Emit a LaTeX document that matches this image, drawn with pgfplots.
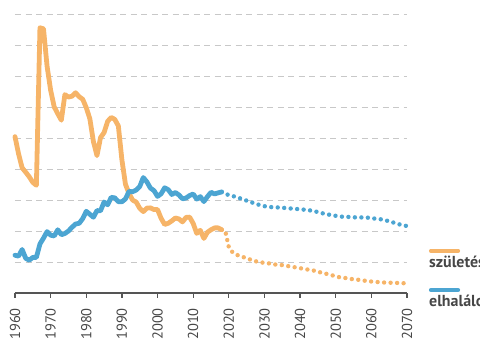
\documentclass[border=0pt]{standalone}
\usepackage{pgfplots}
\pgfplotsset{compat=1.18}
\usepackage{fontspec}
\setmainfont{PT Sans}
\definecolor{orng}{RGB}{246,180,104}
\definecolor{blu}{RGB}{76,165,210}
\definecolor{grd}{RGB}{200,200,200}
\definecolor{axc}{RGB}{85,85,85}
\definecolor{txc}{RGB}{70,70,70}

\pgfplotstableread{
year births
1960 352.2
1961 324.4
1962 301.9
1963 294.9
1964 287.4
1965 278.4
1966 273.7
1967 527.8
1968 526.1
1969 465.8
1970 427.0
1971 400.2
1972 389.2
1973 378.7
1974 420.0
1975 416.0
1976 417.4
1977 423.0
1978 416.6
1979 412.5
1980 398.9
1981 381.1
1982 344.4
1983 321.5
1984 350.7
1985 358.8
1986 376.9
1987 383.2
1988 380.0
1989 369.5
1990 314.7
1991 275.3
1992 260.4
1993 249.9
1994 246.7
1995 236.6
1996 231.3
1997 236.9
1998 237.3
1999 234.6
2000 234.5
2001 220.4
2002 210.5
2003 212.5
2004 216.3
2005 221.0
2006 219.5
2007 214.7
2008 221.9
2009 222.4
2010 212.2
2011 196.2
2012 201.1
2013 188.0
2014 198.0
2015 202.0
2016 205.0
2017 205.0
2018 202.0
}\birthsact

\pgfplotstableread{
year births
2018 202.0
2019 200.0
2020 174.0
2021 166.0
2022 162.0
2023 160.0
2024 158.0
2025 156.0
2026 154.0
2027 152.0
2028 150.5
2029 149.5
2030 148.5
2031 148.0
2032 147.0
2033 146.0
2034 145.5
2035 145.0
2036 144.0
2037 143.0
2038 142.0
2039 141.0
2040 140.0
2041 139.0
2042 138.0
2043 137.0
2044 136.0
2045 134.0
2046 133.0
2047 131.5
2048 130.0
2049 128.5
2050 127.0
2051 125.5
2052 124.5
2053 124.0
2054 123.0
2055 122.0
2056 121.5
2057 121.0
2058 120.0
2059 119.0
2060 118.5
2061 118.0
2062 117.5
2063 117.0
2064 116.8
2065 116.6
2066 116.5
2067 116.3
2068 116.0
2069 115.8
2070 115.5
}\birthsproj

\pgfplotstableread{
year deaths
1960 160.9
1961 159.5
1962 170.2
1963 156.0
1964 152.9
1965 157.4
1966 157.5
1967 179.1
1968 188.5
1969 199.0
1970 193.3
1971 192.0
1972 202.0
1973 194.0
1974 196.0
1975 200.0
1976 206.0
1977 211.3
1978 212.4
1979 220.0
1980 231.8
1981 227.0
1982 222.2
1983 232.9
1984 232.6
1985 246.7
1986 242.3
1987 254.3
1988 253.4
1989 247.3
1990 247.1
1991 251.8
1992 263.9
1993 263.3
1994 266.1
1995 271.7
1996 286.2
1997 279.3
1998 269.2
1999 265.2
2000 255.8
2001 260.0
2002 269.7
2003 266.6
2004 258.9
2005 262.1
2006 258.1
2007 252.0
2008 253.2
2009 257.2
2010 259.7
2011 251.4
2012 255.5
2013 247.5
2014 255.4
2015 262.4
2016 259.8
2017 261.5
2018 263.0
}\deathsact

\pgfplotstableread{
year deaths
2018 263.0
2019 260.0
2020 258.0
2021 256.5
2022 255.0
2023 253.0
2024 251.0
2025 249.0
2026 247.0
2027 245.0
2028 243.0
2029 241.5
2030 240.0
2031 239.0
2032 238.5
2033 238.0
2034 238.0
2035 237.5
2036 237.0
2037 236.5
2038 236.0
2039 235.5
2040 235.0
2041 234.5
2042 234.0
2043 233.0
2044 232.0
2045 230.5
2046 229.0
2047 227.5
2048 226.5
2049 225.5
2050 224.5
2051 223.5
2052 223.0
2053 223.0
2054 222.5
2055 222.0
2056 222.0
2057 222.0
2058 221.5
2059 221.5
2060 220.5
2061 220.0
2062 219.5
2063 218.5
2064 217.0
2065 216.0
2066 214.0
2067 212.0
2068 210.5
2069 209.0
2070 208.0
}\deathsproj

\begin{document}
\begin{tikzpicture}
\begin{axis}[
  at={(15bp,67bp)}, anchor=south west, scale only axis,
  width=392bp, height=285.2bp,
  xmin=1960, xmax=2070, ymin=100, ymax=560,
  clip=false,
  axis x line*=bottom, axis y line*=left,
  x axis line style={axc, line width=1.6bp},
  y axis line style={draw=none},
  xtick={1960,1970,...,2070},
  tick align=outside, major tick length=5bp,
  x tick style={axc, line width=1.3bp},
  xticklabel style={rotate=90, anchor=east, inner xsep=10bp, font=\fontsize{14.5}{14.5}\selectfont, text=txc},
  /pgf/number format/1000 sep={},
  /pgf/number format/assume math mode=true,
  ytick={150,200,...,550}, yticklabels={},
  ytick style={draw=none},
  ymajorgrids,
  y grid style={grd, dash pattern=on 6bp off 4.5bp, line width=0.9bp},
]
\addplot[orng, line width=4.8bp, line join=round, line cap=round] table[x=year, y=births] {\birthsact};
\addplot[orng, line width=4.4bp, line cap=round, dash pattern=on 0bp off 6.5bp] table[x=year, y=births] {\birthsproj};
\addplot[blu, line width=4.8bp, line join=round, line cap=round] table[x=year, y=deaths] {\deathsact};
\addplot[blu, line width=4.4bp, line cap=round, dash pattern=on 0bp off 6.5bp] table[x=year, y=deaths] {\deathsproj};
\end{axis}
\draw[orng, line width=4.2bp, line cap=round] (431bp,109.3bp) -- (458bp,109.3bp);
\node[anchor=base west, inner sep=0pt, font=\bfseries\fontsize{16}{16}\selectfont, text=txc] at (429bp,92.3bp) {születés};
\draw[blu, line width=4.2bp, line cap=round] (431bp,70bp) -- (458bp,70bp);
\node[anchor=base west, inner sep=0pt, font=\bfseries\fontsize{16}{16}\selectfont, text=txc] at (429bp,53bp) {elhalálozás};
\pgfresetboundingbox
\useasboundingbox (0,0) rectangle (480bp,360bp);
\end{tikzpicture}
\end{document}
